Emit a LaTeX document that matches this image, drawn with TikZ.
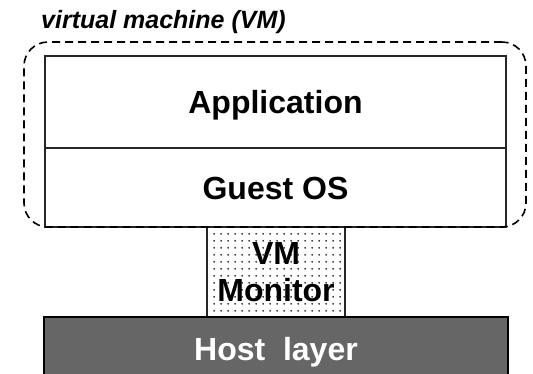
\documentclass[tikz,border=0pt]{standalone}
\usepackage{fontspec}
\setmainfont{Liberation Sans}
\usetikzlibrary{patterns.meta}

\tikzdeclarepattern{
  name=monitordots, type=uncolored,
  bounding box={(0pt,0pt) and (6.6pt,6.6pt)},
  tile size={(6.6pt,6.6pt)},
  code={\fill (3.3pt,3.3pt) circle (1pt);}
}

\begin{document}
\begin{tikzpicture}[x=1pt, y=-1pt,
    layer/.style={draw=black!85, line width=1.5pt, fill=white, inner sep=0pt,
      text height=23pt, text depth=0pt, font=\fontsize{32}{37}\selectfont\bfseries},
    host/.style={layer, draw=black, line width=2pt, fill=black!60, text=white},
    monitor/.style={draw=black!85, line width=1.5pt, inner sep=0pt, align=center,
      pattern={monitordots}, pattern color=black, font=\fontsize{32}{37}\selectfont\bfseries},
    vmframe/.style={draw, dashed, dash pattern=on 8pt off 5pt, line width=1.6pt,
      rounded corners=24pt, inner sep=0pt}]
          \useasboundingbox (0,0) rectangle (533,373);
          \node[layer, minimum width=461, minimum height=92] (app) at (275.5,102) {Application};
          \node[layer, minimum width=461, minimum height=79] (guest) at (275.5,187.5) {Guest OS};
          \node[monitor, minimum width=138, minimum height=90] (vmm) at (276,272)
          {VM\\Monitor};
          \node[host, minimum width=464, minimum height=63] (hostl) at (276,348.5) {Host\ \ layer};
          \node[vmframe, minimum width=502, minimum height=185] (vm) at (275,134.5) {};
          \node[anchor=base west, inner sep=0pt,
            font=\fontsize{25}{30}\selectfont\bfseries\itshape] (title) at (41,28)
          {virtual machine (VM)};
        \end{tikzpicture}
\end{document}
